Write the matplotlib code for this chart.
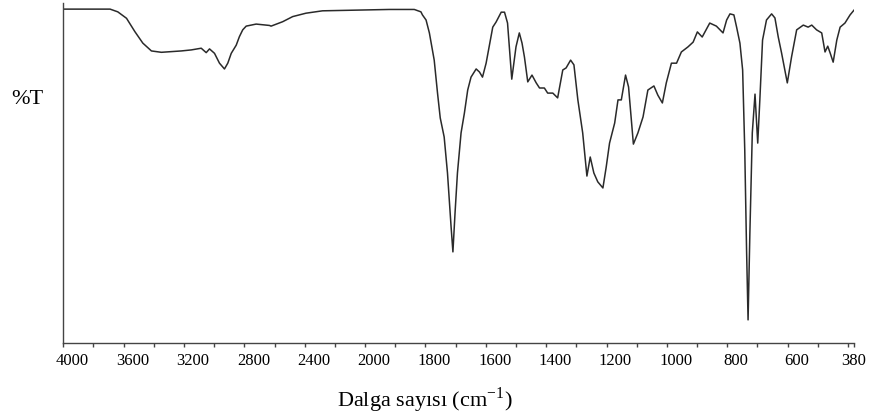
import numpy as np
import matplotlib
matplotlib.use("Agg")
import matplotlib.pyplot as plt
from matplotlib.transforms import ScaledTranslation

# FT-IR spectrum: wavenumber (cm-1) and transmittance (%T)
wavenumber = [
    4000, 3690, 3639, 3581, 3526, 3473, 3416, 3350, 3218, 3152, 3086, 3053,
    3031, 2998, 2965, 2932, 2910, 2887, 2854, 2833, 2811, 2788, 2722, 2634,
    2623, 2546, 2480, 2392, 2282, 2062, 1920, 1837, 1815, 1810, 1798, 1787,
    1771, 1760, 1751, 1738, 1727, 1715, 1709, 1702, 1694, 1682, 1671, 1660,
    1649, 1632, 1621, 1611, 1599, 1577, 1566, 1549, 1538, 1528, 1514, 1500,
    1489, 1480, 1472, 1461, 1447, 1433, 1422, 1406, 1395, 1378, 1362, 1345,
    1334, 1319, 1308, 1295, 1279, 1265, 1254, 1242, 1229, 1212, 1201, 1190,
    1173, 1162, 1151, 1137, 1127, 1111, 1096, 1079, 1063, 1043, 1030, 1015,
    1002, 985, 968, 952, 930, 913, 899, 883, 858, 836, 814, 802,
    791, 778, 769, 758, 749, 742, 736, 731, 725, 717, 708, 699,
    692, 683, 670, 653, 642, 631, 620, 601, 587, 570, 548, 532,
    520, 504, 487, 476, 467, 459, 449, 437, 426, 410, 393, 380,
]
transmittance = [
    98.2, 98.2, 97.4, 95.5, 91.6, 88.2, 85.9, 85.5, 85.9, 86.2, 86.7, 85.4,
    86.5, 85.2, 82.3, 80.6, 82.3, 85.2, 87.6, 90.1, 92.1, 93.2, 93.8, 93.4,
    93.2, 94.5, 96.0, 97.0, 97.7, 97.9, 98.1, 98.1, 97.4, 96.5, 95.0, 91.2,
    83.2, 73.5, 66.2, 60.6, 50.0, 34.1, 26.8, 38.2, 50.0, 61.8, 67.6, 74.4,
    78.2, 80.6, 79.7, 78.2, 82.3, 92.9, 94.4, 97.3, 97.3, 94.1, 77.6, 87.1,
    91.2, 88.2, 84.1, 76.8, 78.8, 76.5, 75.0, 75.0, 73.5, 73.5, 72.1, 80.3,
    80.9, 83.2, 81.8, 71.5, 61.8, 49.1, 54.7, 50.0, 47.4, 45.6, 51.8, 58.8,
    64.7, 71.5, 71.5, 78.8, 75.3, 58.5, 61.8, 66.5, 74.4, 75.6, 72.9, 70.6,
    76.5, 82.3, 82.3, 85.6, 87.1, 88.5, 91.5, 90.0, 94.1, 93.2, 91.2, 95.0,
    96.8, 96.5, 92.9, 88.2, 80.3, 56.8, 27.4, 6.8, 32.4, 61.8, 73.2, 58.8,
    71.5, 89.1, 95.0, 96.8, 95.6, 90.0, 85.3, 76.5, 84.1, 92.1, 93.5, 92.9,
    93.5, 92.1, 91.2, 85.6, 87.3, 85.3, 82.6, 89.1, 92.9, 94.1, 96.5, 97.9,
]

tick_values = list(range(4000, 1999, -200)) + list(range(1900, 399, -100)) + [380]
labelled_values = [4000, 3600, 3200, 2800, 2400, 2000, 1800, 1600, 1400,
                   1200, 1000, 800, 600, 380]

x_label = "Dalga sayısı (cm$^{\\mathregular{-1}}$)"
y_label = "%T"

plt.rcParams["font.family"] = ["Liberation Serif", "DejaVu Serif"]
plt.rcParams["mathtext.fontset"] = "stix"


# Region above 2000 cm-1 is drawn at half the scale of the region below it
def compress(w):
    w = np.asarray(w, dtype=float)
    return np.where(w > 2000, 2000 + (w - 2000) / 2.0, w)


def expand(u):
    u = np.asarray(u, dtype=float)
    return np.where(u > 2000, 2000 + (u - 2000) * 2.0, u)


fig = plt.figure(figsize=(8.74, 4.16), dpi=100)
ax = fig.add_axes([63.3 / 874, (416 - 343) / 416, (854 - 63.3) / 874, 340 / 416])

ax.set_xscale("function", functions=(compress, expand))
ax.plot(wavenumber, transmittance, color="#2a2a2a", lw=1.1)
ax.set_xlim(4000, 380)
ax.set_ylim(0, 100)

for side in ("top", "right"):
    ax.spines[side].set_visible(False)
for side in ("left", "bottom"):
    ax.spines[side].set_color("#444444")
    ax.spines[side].set_linewidth(1.0)

ax.set_yticks([])
ax.set_xticks(tick_values)
ax.set_xticklabels([str(v) if v in labelled_values else "" for v in tick_values])
ax.tick_params(axis="x", direction="out", length=3, width=1.0,
               color="#444444", labelsize=12, pad=4)

# shift the printed numbers slightly to the right of their tick marks
for lab in ax.get_xticklabels():
    if lab.get_text() and lab.get_text() != "380":
        lab.set_transform(lab.get_transform() +
                          ScaledTranslation(0.09, 0, fig.dpi_scale_trans))

fig.text(424.5 / 874, 9 / 416, x_label, ha="center", va="baseline", fontsize=16)
fig.text(27 / 874, (416 - 100) / 416, y_label, ha="center", va="center", fontsize=16)

fig.savefig("out.png", dpi=100)
